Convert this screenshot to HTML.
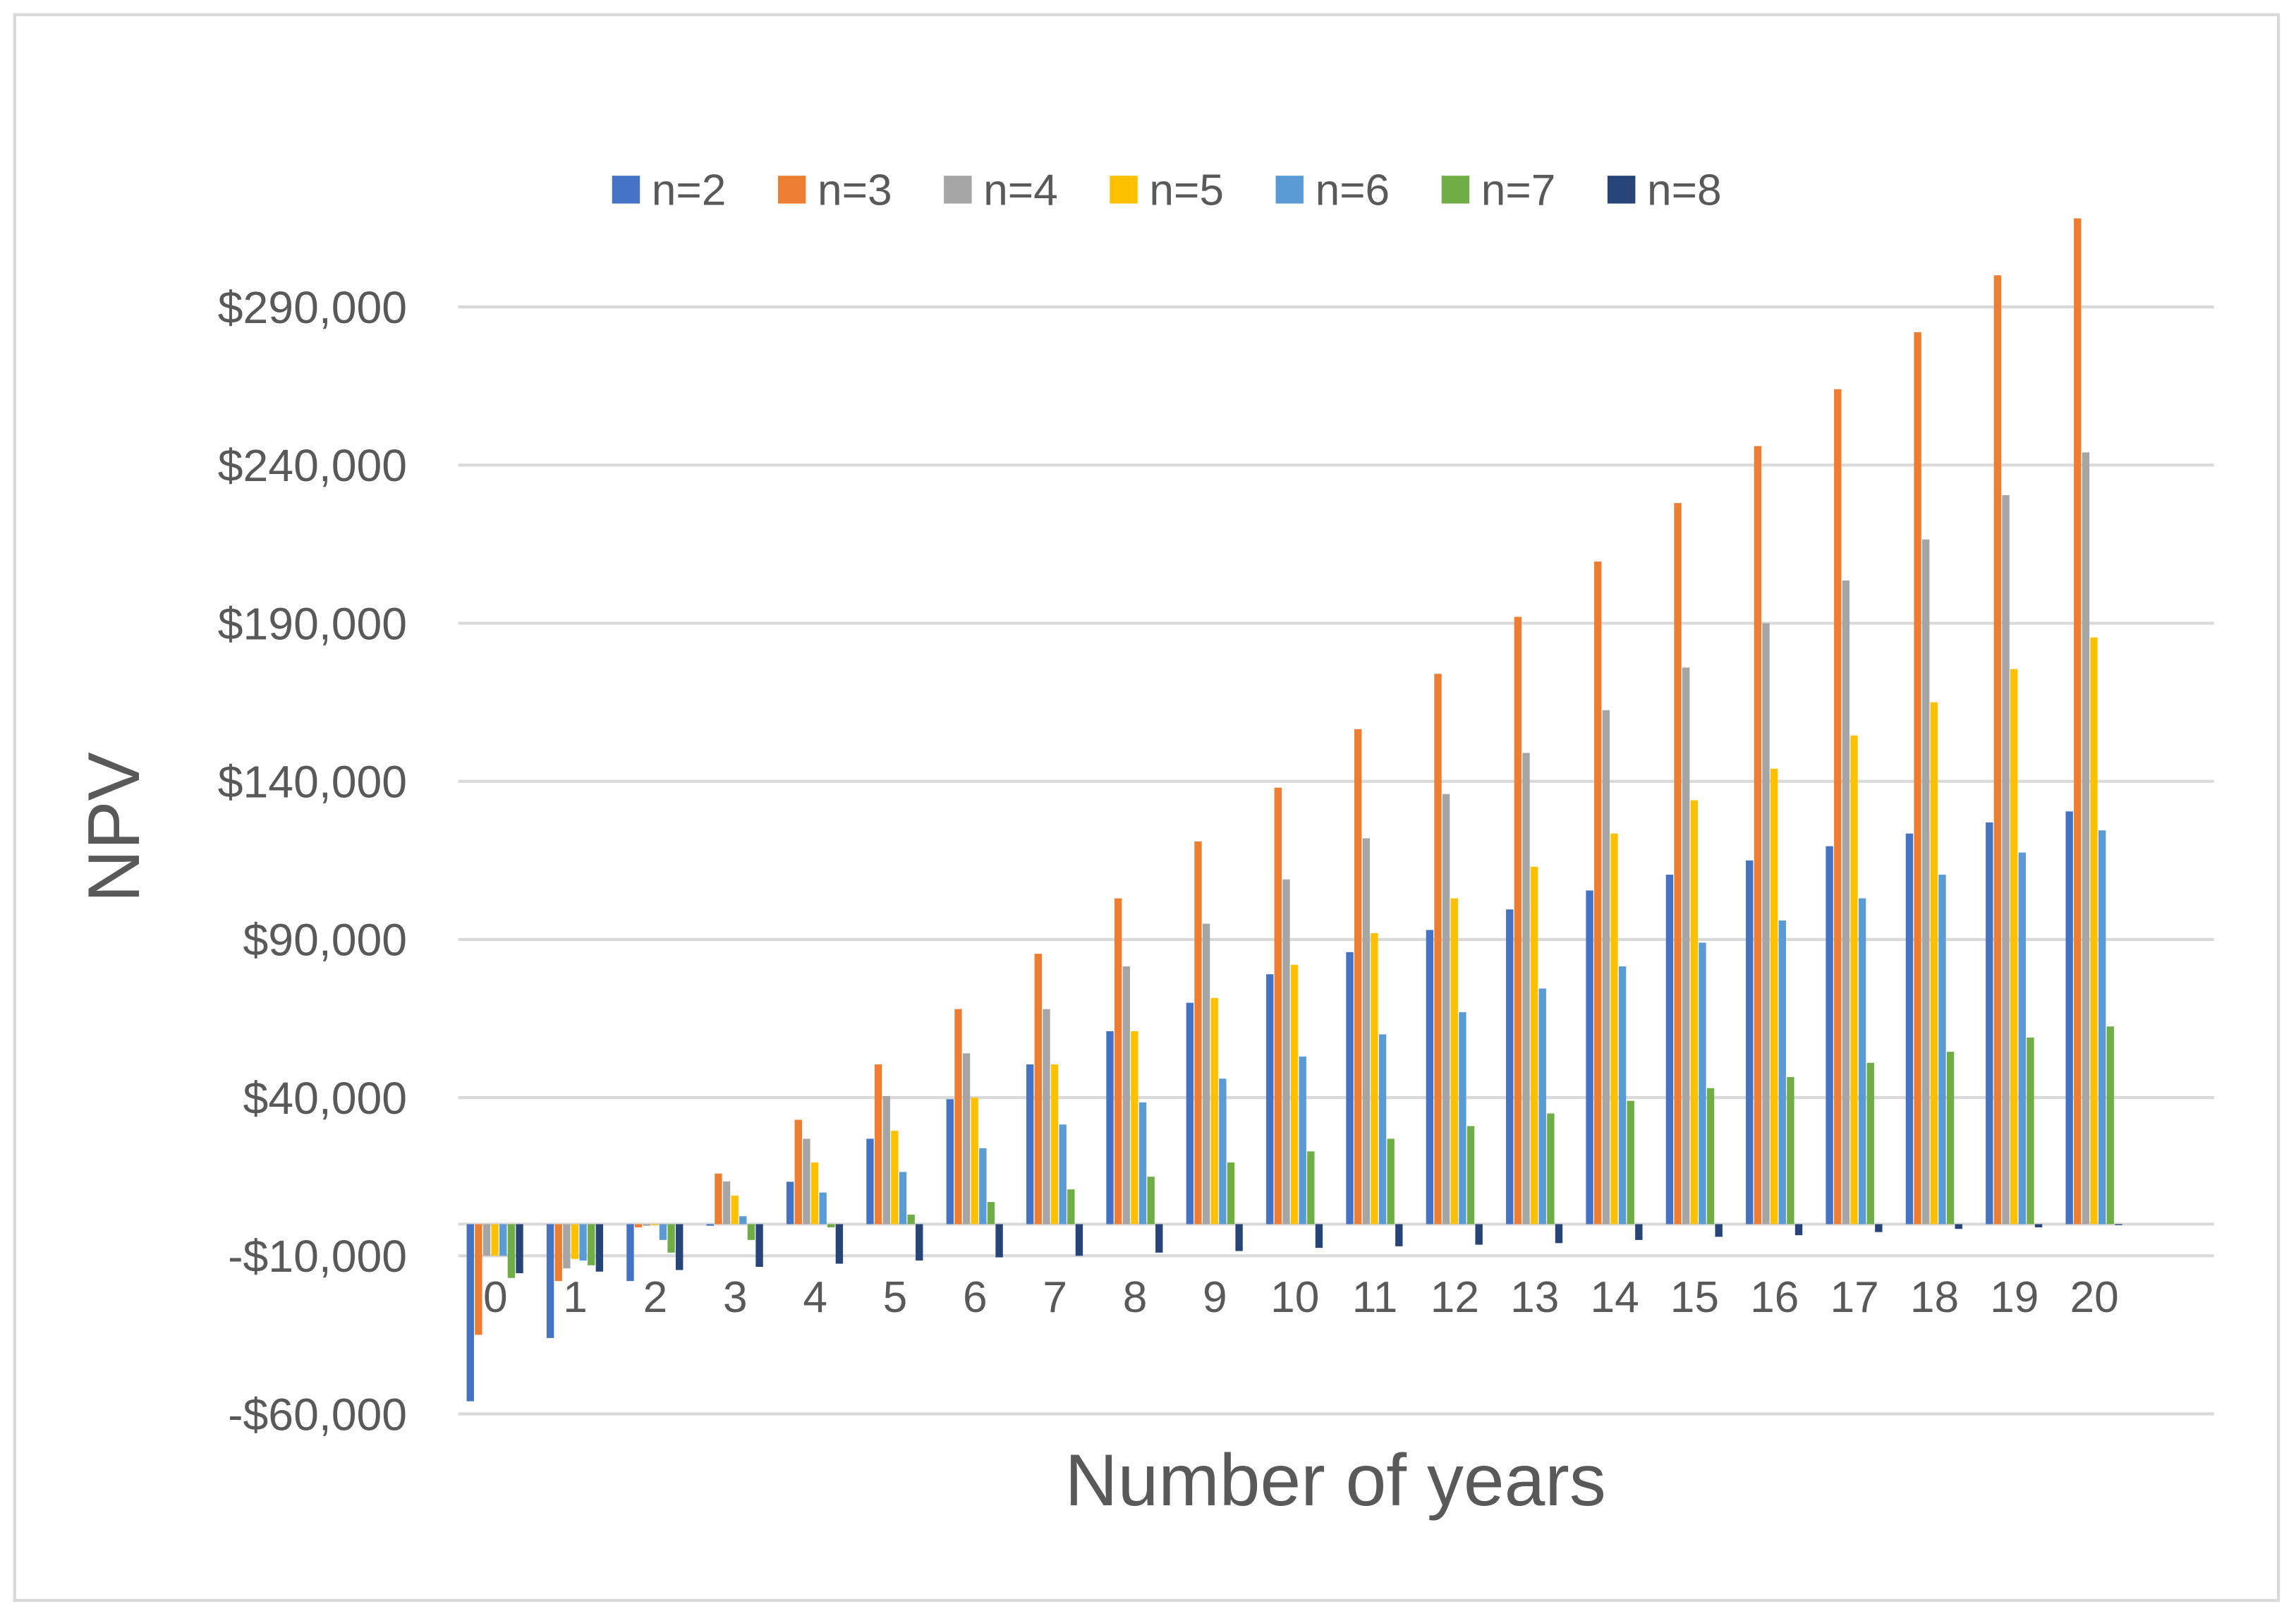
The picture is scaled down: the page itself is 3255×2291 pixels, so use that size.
<!DOCTYPE html>
<html><head><meta charset="utf-8"><style>
html,body{margin:0;padding:0;background:#fff;}
svg{display:block;font-family:"Liberation Sans",sans-serif;}
</style></head><body>
<svg id="chart" width="3255" height="2291" viewBox="0 0 1568 1103.6" xmlns="http://www.w3.org/2000/svg">
<rect x="10" y="10" width="1546" height="1083" fill="#fff" stroke="#d9d9d9" stroke-width="2"/>
<g id="grid"></g><g id="bars"></g><g id="labels"></g><g id="legend"></g>
<text transform="translate(95,565) rotate(-90)" text-anchor="middle" font-size="50" fill="#595959">NPV</text>
<text x="912" y="1028" text-anchor="middle" font-size="50" fill="#595959">Number of years</text>
</svg>
<script>
const categories=["0","1","2","3","4","5","6","7","8","9","10","11","12","13","14","15","16","17","18","19","20"];
const seriesNames=["n=2","n=3","n=4","n=5","n=6","n=7","n=8"];
const colors=["#4472C4","#ED7D31","#A5A5A5","#FFC000","#5B9BD5","#70AD47","#264478"];
const n2=[-56000,-36000,-18000,-500,13400,27000,39500,50500,61000,70000,79000,86000,93000,99500,105500,110500,115000,119500,123500,127000,130500];
const n3=[-35000,-18000,-1000,16000,33000,50500,68000,85500,103000,121000,138000,156500,174000,192000,209500,228000,246000,264000,282000,300000,318000];
const n4=[-10000,-14000,-500,13500,27000,40500,54000,68000,81500,95000,109000,122000,136000,149000,162500,176000,190000,203500,216500,230500,244000];
const n5=[-10000,-11000,-300,9000,19500,29500,40000,50500,61000,71500,82000,92000,103000,113000,123500,134000,144000,154500,165000,175500,185500];
const n6=[-10000,-11500,-5000,2500,10000,16500,24000,31500,38500,46000,53000,60000,67000,74500,81500,89000,96000,103000,110500,117500,124500];
const n7=[-17000,-13000,-9000,-5000,-1000,3000,7000,11000,15000,19500,23000,27000,31000,35000,39000,43000,46500,51000,54500,59000,62500];
const n8=[-15500,-15000,-14500,-13500,-12500,-11500,-10500,-10000,-9000,-8500,-7500,-7000,-6500,-6000,-5000,-4000,-3500,-2500,-1500,-1000,-300];
const series=[n2,n3,n4,n5,n6,n7,n8];
const yTicks=[290000,240000,190000,140000,90000,40000,-10000,-60000];
const yTickLabels=["$290,000","$240,000","$190,000","$140,000","$90,000","$40,000","-$10,000","-$60,000"];

const NS="http://www.w3.org/2000/svg";
const y0=836, pxPer=108/50000;
function yScale(v){return y0 - v*pxPer;}
const catW=54.6, plotX0=311, barW=5.6;
function xCenter(i){return plotX0+catW*(i+0.5);}
function mk(tag,attrs,parent){const e=document.createElementNS(NS,tag);for(const k in attrs)e.setAttribute(k,attrs[k]);parent.appendChild(e);return e;}
const grid=document.getElementById('grid'),bars=document.getElementById('bars'),labels=document.getElementById('labels'),legend=document.getElementById('legend');
yTicks.forEach((t,i)=>{
  const l=mk('line',{x1:313,x2:1512,y1:yScale(t),y2:yScale(t),stroke:'#d9d9d9','stroke-width':2},grid);
  
  
  const tx=mk('text',{x:278,y:yScale(t)+11,'text-anchor':'end','font-size':31,fill:'#595959'},labels);
  tx.textContent=yTickLabels[i];
  
  
});
series.forEach((s,si)=>{
  s.forEach((v,ci)=>{
    const x=xCenter(ci)-3.5*barW+si*barW;
    const y=Math.min(yScale(v),y0), h=Math.abs(yScale(v)-y0);
    const r=mk('rect',{x:x,y:y,width:barW-0.6,height:Math.max(h,0.5),fill:colors[si]},bars);
    
    
  });
});
const ax=mk('line',{x1:313,x2:1512,y1:y0,y2:y0,stroke:'#d9d9d9','stroke-width':2},grid);


categories.forEach((c,i)=>{
  const t=mk('text',{x:xCenter(i),y:896,'text-anchor':'middle','font-size':30,fill:'#595959'},labels);
  t.textContent=c;
  
  
});
seriesNames.forEach((n,i)=>{
  const lx=418+i*113.3;
  const r=mk('rect',{x:lx,y:120,width:19,height:19,fill:colors[i]},legend);
  
  
  const t=mk('text',{x:lx+27,y:140,'font-size':30,fill:'#595959'},legend);
  t.textContent=n;
  
  
});
</script>
</body></html>
